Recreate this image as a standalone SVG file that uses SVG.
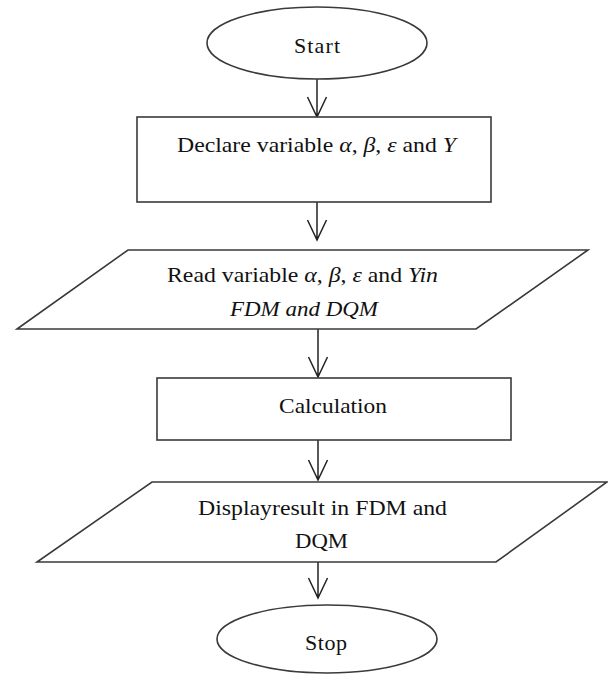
<svg xmlns="http://www.w3.org/2000/svg" width="608" height="675" viewBox="0 0 608 675">
<style>
.shape{fill:#fff;stroke:#3a3a3a;stroke-width:1.6}
.con{fill:none;stroke:#222;stroke-width:1.5}
text{font-family:"Liberation Serif","Times New Roman",serif;font-size:22px;fill:#111}
.it{font-style:italic}
</style>
<rect width="608" height="675" fill="#fff"/>
<g id="connectors">
<path class="con" d="M317,79 V117 M307.5,97 L317,117 L326.5,97"/>
<path class="con" d="M317,202 V240 M307.5,220 L317,240 L326.5,220"/>
<path class="con" d="M318,329 V377 M308.5,357 L318,377 L327.5,357"/>
<path class="con" d="M318,440 V480 M308.5,460 L318,480 L327.5,460"/>
<path class="con" d="M318,562 V598 M308.5,578 L318,598 L327.5,578"/>
</g>
<g id="start">
<ellipse class="shape" cx="317" cy="43" rx="110" ry="36"/>
<text x="294" y="53" textLength="46" lengthAdjust="spacing">Start</text>
</g>
<g id="declare">
<rect class="shape" x="137" y="117" width="354" height="85"/>
<text x="177" y="152" textLength="279" lengthAdjust="spacingAndGlyphs">Declare variable <tspan class="it">α</tspan>, <tspan class="it">β</tspan>, <tspan class="it">ε</tspan> and <tspan class="it">Y</tspan></text>
</g>
<g id="read">
<polygon class="shape" points="128,250 588,250 476,329 17,329"/>
<text x="167" y="282" textLength="271" lengthAdjust="spacingAndGlyphs">Read variable <tspan class="it">α</tspan>, <tspan class="it">β</tspan>, <tspan class="it">ε</tspan> and <tspan class="it">Yin</tspan></text>
<text class="it" x="230" y="316" textLength="148" lengthAdjust="spacingAndGlyphs">FDM and DQM</text>
</g>
<g id="calculation">
<rect class="shape" x="157" y="378" width="354" height="62"/>
<text x="279" y="413" textLength="108" lengthAdjust="spacingAndGlyphs">Calculation</text>
</g>
<g id="display">
<polygon class="shape" points="152,482 607,482 496,562 37,562"/>
<text x="198" y="515" textLength="249" lengthAdjust="spacingAndGlyphs">Displayresult in FDM and</text>
<text x="295" y="548" textLength="53" lengthAdjust="spacingAndGlyphs">DQM</text>
</g>
<g id="stop">
<ellipse class="shape" cx="327" cy="639" rx="110" ry="34"/>
<text x="305" y="650" textLength="42" lengthAdjust="spacing">Stop</text>
</g>
</svg>
